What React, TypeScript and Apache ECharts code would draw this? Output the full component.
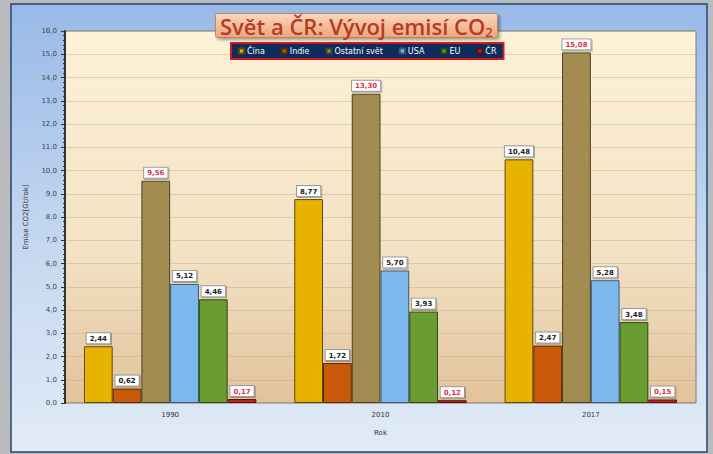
import React, { useEffect, useRef } from "react";
import * as echarts from "echarts";

const categories = ["1990", "2010", "2017"];
const seriesNames = ["Čína", "Indie", "Ostatní svět", "USA", "EU", "ČR"];
const cina = [2.44, 8.77, 10.48];
const indie = [0.62, 1.72, 2.47];
const ostatni = [9.56, 13.3, 15.08];
const usa = [5.12, 5.7, 5.28];
const eu = [4.46, 3.93, 3.48];
const cr = [0.17, 0.12, 0.15];
const seriesData = [cina, indie, ostatni, usa, eu, cr];
const colors = ["#e8b200", "#c95a0c", "#a38c52", "#7db9ec", "#6b9c32", "#c4202c"];
const borders = ["#5a4a10", "#5a2a08", "#4a4020", "#3a5a7a", "#2a4a12", "#5a1010"];
const labelColors = ["#222", "#222", "#e0304e", "#222", "#222", "#e0304e"];

const fmt = (v: number) => v.toFixed(2).replace(".", ",");

export default function App() {
  const ref = useRef<HTMLDivElement>(null);
  useEffect(() => {
    if (!ref.current) return;
    const chart = echarts.init(ref.current, undefined, { renderer: "svg" });
    const LG = echarts.graphic.LinearGradient;
    chart.setOption({
      animation: false,
      backgroundColor: "#b9bbbe",
      textStyle: { fontFamily: "DejaVu Sans" },
      graphic: [
        {
          type: "rect",
          z: -10,
          shape: { x: 11, y: 4, width: 696, height: 448 },
          style: {
            fill: new LG(0, 0, 0, 1, [
              { offset: 0, color: "#98b9e8" },
              { offset: 0.5, color: "#c2d6f0" },
              { offset: 1, color: "#e2ebf7" },
            ]),
            stroke: "#27466f",
            lineWidth: 1.5,
          },
        },
      ],
      title: {
        text: "{a|Svět a ČR: Vývoj emisí CO}{b|2}",
        left: 215,
        top: 11,
        padding: [0, 5, 0, 5],
        backgroundColor: new LG(0, 0, 0, 1, [
          { offset: 0, color: "#fbd8bb" },
          { offset: 1, color: "#eca57a" },
        ]),
        borderColor: "#b98862",
        borderWidth: 1,
        borderRadius: 2,
        shadowColor: "rgba(0,0,0,0.35)",
        shadowBlur: 3,
        shadowOffsetX: 2,
        shadowOffsetY: 2,
        textStyle: {
          rich: {
            a: { fontSize: 22, lineHeight: 29, color: "#b63a26", fontFamily: "Open Sans", fontWeight: 600 },
            b: { fontSize: 13, lineHeight: 29, color: "#b63a26", fontFamily: "Open Sans", fontWeight: 600, padding: [12, 0, 0, 0] },
          },
        },
      },
      legend: {
        data: seriesNames,
        left: 231,
        top: 43,
        width: 274,
        backgroundColor: "#0c2c5e",
        borderColor: "#d41818",
        borderWidth: 2,
        padding: [4, 7, 4, 7],
        icon: "rect",
        itemWidth: 5,
        itemHeight: 5,
        itemGap: 16,
        textStyle: { color: "#ffffff", fontSize: 8, padding: [0, 0, 0, -2] },
      },
      grid: {
        left: 65,
        right: 17,
        top: 31,
        bottom: 51,
        show: true,
        borderColor: "#7a7a7a",
        borderWidth: 1,
        backgroundColor: new LG(0, 0, 0, 1, [
          { offset: 0, color: "#fdf1d8" },
          { offset: 0.6, color: "#f3e2c4" },
          { offset: 1, color: "#e2c29c" },
        ]),
      },
      xAxis: {
        type: "category",
        data: categories,
        name: "Rok",
        nameLocation: "middle",
        nameGap: 26,
        nameTextStyle: { fontSize: 7, color: "#333" },
        axisLine: { show: false },
        axisTick: { show: false },
        axisLabel: { fontSize: 7, color: "#333", margin: 8 },
      },
      yAxis: {
        type: "value",
        min: 0,
        max: 16,
        interval: 1,
        name: "Emise CO2[Gt/rok]",
        nameLocation: "middle",
        nameGap: 36,
        nameTextStyle: { fontSize: 7, color: "#333" },
        axisLine: { show: true, lineStyle: { color: "#333", width: 2 } },
        axisTick: { show: true, length: 4, lineStyle: { color: "#333" } },
        minorTick: { show: true, splitNumber: 5, length: 2, lineStyle: { color: "#333" } },
        axisLabel: {
          fontSize: 7,
          color: "#444",
          margin: 8,
          formatter: (v: number) => v.toFixed(1).replace(".", ","),
        },
        splitLine: { show: true, lineStyle: { color: "rgba(190,165,130,0.4)", width: 1 } },
      },
      series: seriesNames.map((name, i) => ({
        name,
        type: "bar",
        data: seriesData[i],
        barGap: "0%",
        barCategoryGap: "18%",
        itemStyle: {
          color: colors[i],
          borderColor: borders[i],
          borderWidth: 1,
        },
        label: {
          show: true,
          position: "top",
          distance: 3,
          formatter: (p: any) => fmt(p.value),
          fontSize: 7,
          fontWeight: "bold",
          color: labelColors[i],
          backgroundColor: "#ffffff",
          borderColor: "#9a9a9a",
          borderWidth: 1,
          padding: [2, 3, 1, 3],
          shadowColor: "rgba(0,0,0,0.3)",
          shadowBlur: 1,
          shadowOffsetX: 1,
          shadowOffsetY: 1,
        },
      })),
    });
    return () => chart.dispose();
  }, []);
  return (
    <div
      ref={ref}
      style={{ position: "fixed", left: 0, top: 0, width: 713, height: 454 }}
    />
  );
}
